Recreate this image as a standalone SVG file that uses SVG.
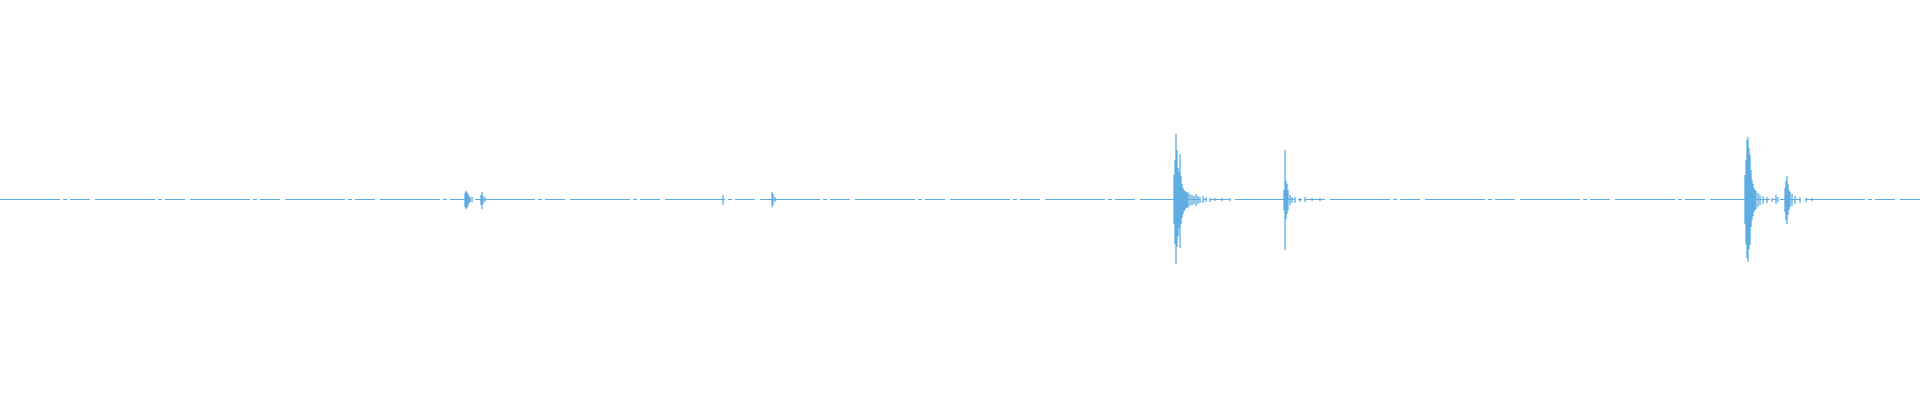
<svg xmlns="http://www.w3.org/2000/svg" width="1920" height="400" viewBox="0 0 1920 400">
<style>.w{stroke:#5DADE2;stroke-width:1;fill:none}.b{stroke:#5DADE2;stroke-width:1.3;fill:none}</style>
<rect width="1920" height="400" fill="#fff"/>
<path class="w" stroke-dasharray="60 3 4 3 20 5" d="M0 199.5H1920"/>
<path class="b" d="M465 193V207M466 191V209M467 192V208M468 194V206M469 196V203M470 197V202M472 197V202M481 195V205M482 192V209M483 196V204M485 197V202M723 195V205M772 192V207M773 194V205M775 197V202"/>
<path class="b" d="M1174 175V224M1175 160V244M1176 134V264M1177 150V247M1178 168V236M1179 172V228M1180 154V248M1181 176V224M1182 184V218M1183 188V214M1184 190V211M1185 191V210M1186 192V208M1187 193V207M1188 192V208M1190 194V206M1192 195V205M1194 196V204M1196 194V206M1198 196V204M1200 197V203M1203 196V203M1206 197V202M1210 198V202M1215 198V201M1222 198V201M1230 198V201"/>
<path class="b" d="M1284 190V210M1285 150V250M1286 181V219M1287 184V214M1288 190V210M1290 195V205M1292 197V203M1295 197V203M1300 198V202M1305 197V202M1312 198V201M1320 198V201"/>
<path class="b" d="M1745 175V224M1746 160V244M1747 140V258M1748 137V262M1749 148V249M1750 155V245M1751 170V227M1752 180V220M1753 184V216M1754 188V212M1755 190V210M1756 191V209M1758 193V207M1760 195V205M1763 196V204M1767 197V203M1772 198V202M1776 195V204M1778 197V202M1785 188V212M1786 181V220M1787 176V224M1788 184V215M1789 190V210M1790 192V207M1792 194V206M1795 196V204M1800 197V203M1806 198V202M1812 198V201"/>
</svg>
